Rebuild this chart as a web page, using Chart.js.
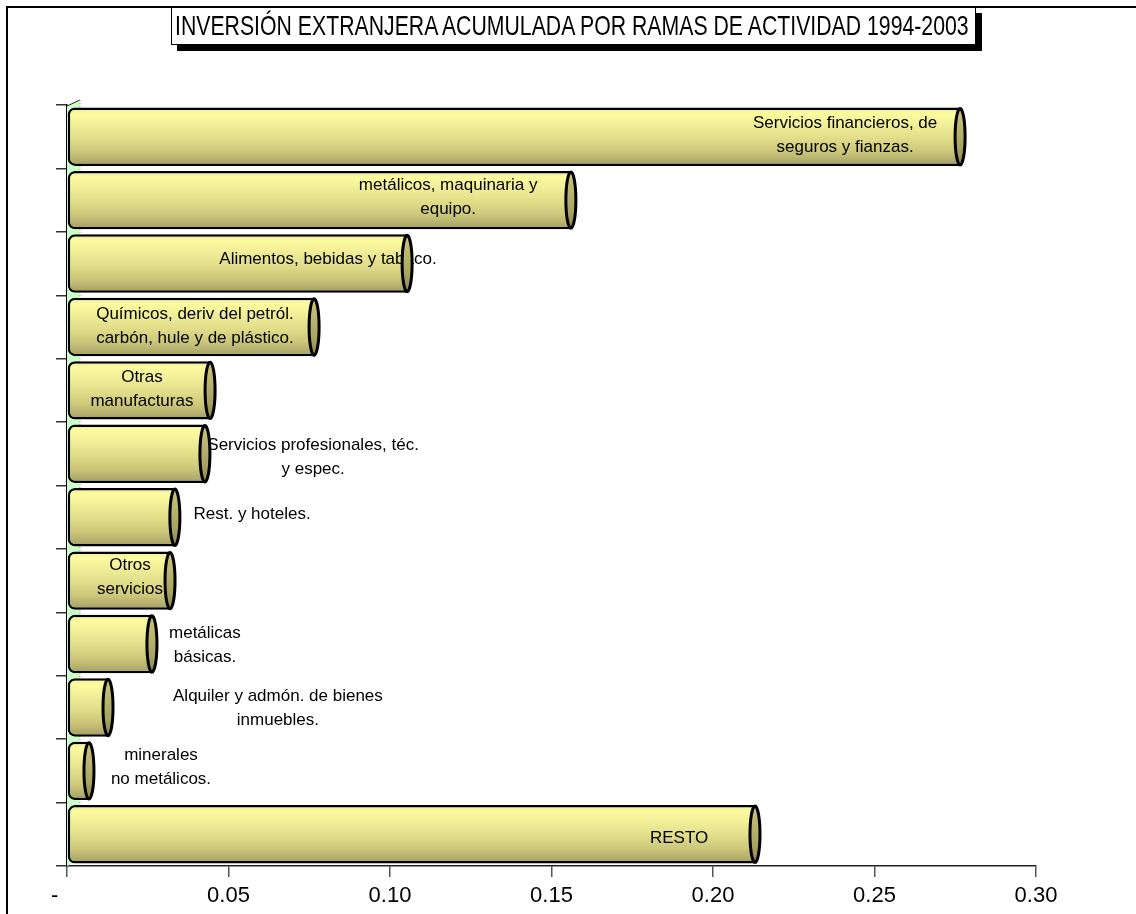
<!DOCTYPE html>
<html lang="es">
<head>
<meta charset="utf-8">
<title>Inversión extranjera acumulada por ramas de actividad 1994-2003</title>
<script src="https://cdn.jsdelivr.net/npm/chart.js@4.4.0/dist/chart.umd.min.js"></script>
<style>
    html, body { margin: 0; padding: 0; background: #fff; }
    #wrap { position: relative; width: 1136px; height: 914px; overflow: hidden; }
    #frame {
        position: absolute; left: 6px; top: 6px; width: 1300px; height: 1000px;
        border-left: 2px solid #000; border-top: 2px solid #000;
    }
    #myChart { position: absolute; left: 0; top: 0; }
    #title {
        position: absolute; left: 171px; top: 7px; width: 803px; height: 36px;
        border: 1px solid #000; background: #fff; box-shadow: 6px 6px 0 #000;
        font-family: "Liberation Sans", Arial, sans-serif; font-size: 28px;
        line-height: 29px; white-space: nowrap; color: #000; overflow: visible;
    }
    #title span { position: absolute; left: 3px; top: 3px; transform-origin: 0 0; }
</style>
</head>
<body>
<div id="wrap">
    <div id="frame"></div>
    <canvas id="myChart" width="1136" height="914"></canvas>
    <div id="title"><span>INVERSIÓN EXTRANJERA ACUMULADA POR RAMAS DE ACTIVIDAD 1994-2003</span></div>
</div>
<script>
// Ramas de actividad (texto tal como aparece en las etiquetas)
const categories = [
    ['Servicios financieros, de', 'seguros y fianzas.'],
    ['metálicos, maquinaria y', 'equipo.'],
    ['Alimentos, bebidas y tabaco.'],
    ['Químicos, deriv del petról.', 'carbón, hule y de plástico.'],
    ['Otras', 'manufacturas'],
    ['Servicios profesionales, téc.', 'y espec.'],
    ['Rest. y hoteles.'],
    ['Otros', 'servicios'],
    ['metálicas', 'básicas.'],
    ['Alquiler y admón. de bienes', 'inmuebles.'],
    ['minerales', 'no metálicos.'],
    ['RESTO']
];

// Participación en la inversión acumulada
const inversion = [0.2765, 0.156, 0.1053, 0.0765, 0.0443, 0.0427, 0.0334, 0.0319, 0.0263, 0.0127, 0.0068, 0.213];

// Eje X
const xTicks = [0, 0.05, 0.10, 0.15, 0.20, 0.25, 0.30];
const xTickLabels = ['-    ', '0.05', '0.10', '0.15', '0.20', '0.25', '0.30'];

// Posición horizontal de cada etiqueta (en unidades del eje X) y ajuste vertical
const labelAt = [0.2409, 0.118, 0.0808, 0.0396, 0.0232, 0.0762, 0.0573, 0.0195, 0.0427, 0.0653, 0.0291, 0.1895];
const labelDy = [-1, -3, -4, -1, -1, 4, -3, -3, 1, 1, -4, 4];

const BAR_PCT = 0.92;
const faceStops = [
    [0.00, '#ece897'], [0.10, '#fdfb9f'], [0.30, '#f1ee98'], [0.55, '#dfdb88'],
    [0.75, '#ccc77a'], [0.90, '#b4ae6e'], [1.00, '#a19b60']
];
const capStops = [
    [0.00, '#c9c47c'], [0.30, '#bdb772'], [0.70, '#a9a364'], [1.00, '#8d8750']
];

function barFill(context) {
    const chart = context.chart;
    const area = chart.chartArea;
    if (!area) return '#e1dd8a';
    const h = area.bottom - area.top;
    const band = h / categories.length;
    const bh = band * BAR_PCT;
    const g = chart.ctx.createLinearGradient(0, area.top, 0, area.bottom);
    for (let i = 0; i < categories.length; i++) {
        const top = i * band + (band - bh) / 2;
        faceStops.forEach(([s, c]) => {
            g.addColorStop(Math.min(1, Math.max(0, (top + s * bh) / h)), c);
        });
    }
    return g;
}

const cylinderPlugin = {
    id: 'cylinder',
    beforeDatasetsDraw(chart) {
        const { ctx, chartArea } = chart;
        const l = chartArea.left, t = chartArea.top, b = chartArea.bottom;
        // pared lateral (efecto 3D)
        ctx.save();
        ctx.beginPath();
        ctx.moveTo(l, t + 1);
        ctx.lineTo(l + 13, t - 5);
        ctx.lineTo(l + 13, b - 6);
        ctx.lineTo(l, b);
        ctx.closePath();
        ctx.fillStyle = '#ccffcc';
        ctx.fill();
        ctx.strokeStyle = '#222';
        ctx.lineWidth = 1;
        ctx.beginPath();
        ctx.moveTo(l, t + 1);
        ctx.lineTo(l + 13, t - 5);
        ctx.stroke();
        ctx.strokeStyle = '#9a9a9a';
        ctx.setLineDash([1, 2]);
        ctx.beginPath();
        ctx.moveTo(l + 13, t - 5);
        ctx.lineTo(l + 13, b - 6);
        ctx.stroke();
        ctx.restore();
    },
    afterDatasetsDraw(chart) {
        const { ctx } = chart;
        const xScale = chart.scales.x;
        const meta = chart.getDatasetMeta(0);
        ctx.save();
        // etiquetas
        ctx.font = '17px "Liberation Sans", Arial, sans-serif';
        ctx.fillStyle = '#000';
        ctx.textAlign = 'center';
        ctx.textBaseline = 'middle';
        const lineH = 24;
        meta.data.forEach((el, i) => {
            const lines = categories[i];
            const x = xScale.getPixelForValue(labelAt[i]);
            const yc = el.y + labelDy[i];
            lines.forEach((txt, j) => {
                ctx.fillText(txt, x, yc + (j - (lines.length - 1) / 2) * lineH);
            });
        });
        // tapas de los cilindros
        meta.data.forEach((el) => {
            const ry = el.height / 2 - 1;
            const g = ctx.createLinearGradient(0, el.y - ry, 0, el.y + ry);
            capStops.forEach(([s, c]) => g.addColorStop(s, c));
            ctx.beginPath();
            ctx.ellipse(el.x, el.y, 5, ry, 0, 0, Math.PI * 2);
            ctx.fillStyle = g;
            ctx.fill();
            ctx.lineWidth = 3;
            ctx.strokeStyle = '#000';
            ctx.stroke();
        });
        ctx.restore();
    }
};

const myChartCanvas = document.getElementById('myChart');

new Chart(myChartCanvas, {
    type: 'bar',
    data: {
        labels: categories.map(c => c.join(' ')),
        datasets: [{
            label: 'Inversión',
            data: inversion,
            backgroundColor: barFill,
            borderColor: '#000',
            borderWidth: 2.5,
            borderSkipped: false,
            borderRadius: { topLeft: 7, bottomLeft: 7, topRight: 0, bottomRight: 0 },
            barPercentage: BAR_PCT,
            categoryPercentage: 1
        }]
    },
    options: {
        indexAxis: 'y',
        responsive: false,
        animation: false,
        layout: { padding: { left: 0, top: 105, right: 100, bottom: 0 } },
        plugins: {
            legend: { display: false },
            tooltip: { enabled: false },
            title: { display: false }
        },
        scales: {
            x: {
                type: 'linear',
                min: 0,
                max: 0.30,
                afterBuildTicks: scale => {
                    scale.ticks = xTicks.map(v => ({ value: v }));
                },
                afterFit: scale => { scale.height = 48; },
                ticks: {
                    callback: (v, i) => xTickLabels[i],
                    color: '#000',
                    padding: 6,
                    maxRotation: 0,
                    autoSkip: false,
                    font: { family: '"Liberation Sans", Arial, sans-serif', size: 22 }
                },
                grid: { drawOnChartArea: false, drawTicks: true, tickLength: 11, color: '#555', lineWidth: 1.5 },
                border: { display: true, color: '#222', width: 1.5 }
            },
            y: {
                afterFit: scale => { scale.width = 67; },
                ticks: { display: false },
                grid: { drawOnChartArea: false, drawTicks: true, tickLength: 11, color: '#333', lineWidth: 1.5, offset: true },
                border: { display: true, color: '#000', width: 1.5 }
            }
        }
    },
    plugins: [cylinderPlugin]
});

// ajustar el título al ancho del recuadro (fuente condensada en el original)
const titleSpan = document.querySelector('#title span');
const tw = titleSpan.getBoundingClientRect().width;
titleSpan.style.transform = 'scaleX(' + (794 / tw).toFixed(3) + ')';
</script>
</body>
</html>
